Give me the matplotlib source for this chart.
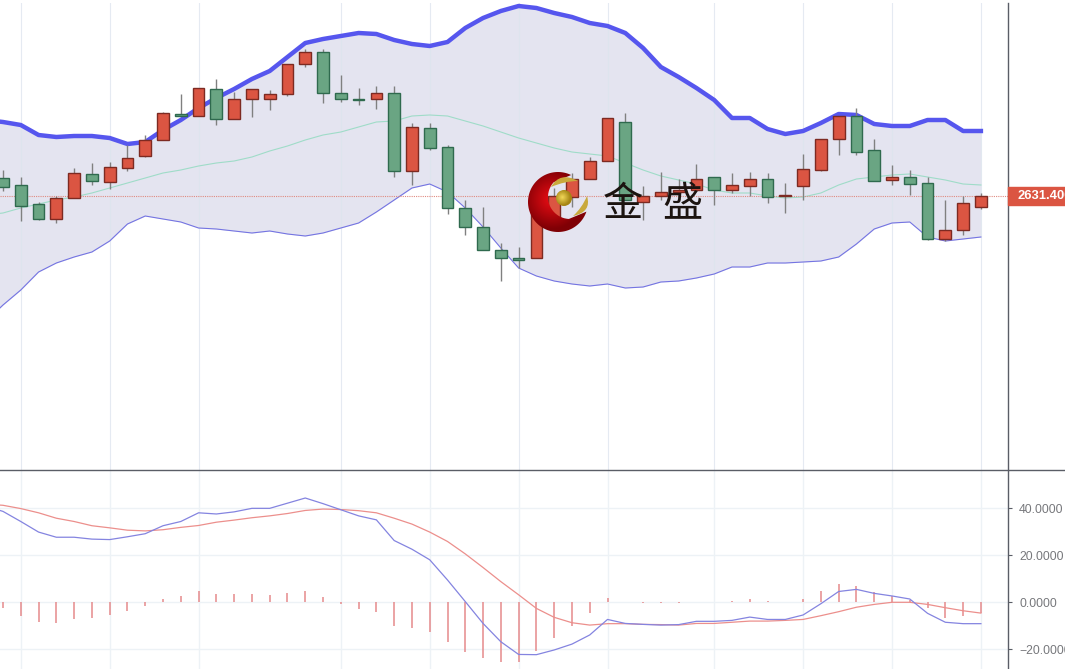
import numpy as np
import matplotlib
matplotlib.use('Agg')
import matplotlib.pyplot as plt
from matplotlib.patches import Circle, PathPatch, Rectangle
from matplotlib.path import Path
from matplotlib.transforms import blended_transform_factory

W, H = 1065, 669

# candles
opens = [2649, 2642, 2623, 2608, 2629, 2653, 2645, 2659, 2671, 2687, 2713, 2711, 2738, 2708,
         2728, 2728, 2733, 2763, 2775, 2734, 2728, 2728, 2734, 2656, 2699, 2680, 2619, 2600,
         2577, 2569, 2569, 2607, 2630, 2648, 2666, 2705, 2625, 2631, 2635, 2637, 2650, 2637,
         2641, 2648, 2631, 2641, 2657, 2688, 2711, 2677, 2647, 2650, 2644, 2588, 2597, 2620]
closes = [2640, 2621, 2608, 2629, 2654, 2646, 2660, 2669, 2687, 2714, 2711, 2739, 2708, 2728,
          2738, 2733, 2763, 2775, 2734, 2728, 2727, 2734, 2656, 2700, 2679, 2619, 2600, 2577,
          2569, 2567, 2631, 2631, 2648, 2666, 2709, 2627, 2631, 2635, 2637, 2648, 2637, 2642,
          2648, 2630, 2632, 2658, 2688, 2711, 2675, 2646, 2650, 2643, 2588, 2597, 2624, 2631]
highs = [2657, 2650, 2625, 2631, 2659, 2664, 2665, 2682, 2692, 2715, 2733, 2739, 2748, 2735,
         2738, 2737, 2763, 2778, 2778, 2752, 2739, 2741, 2741, 2704, 2704, 2682, 2627, 2620,
         2584, 2580, 2631, 2639, 2654, 2670, 2709, 2714, 2641, 2655, 2648, 2663, 2650, 2654,
         2655, 2654, 2644, 2673, 2688, 2711, 2719, 2688, 2662, 2657, 2650, 2627, 2631, 2634]
lows = [2636, 2606, 2607, 2604, 2629, 2642, 2638, 2656, 2670, 2687, 2711, 2711, 2702, 2708,
        2710, 2717, 2731, 2760, 2724, 2725, 2722, 2718, 2650, 2642, 2677, 2613, 2592, 2577,
        2546, 2559, 2569, 2607, 2620, 2648, 2666, 2627, 2607, 2627, 2632, 2637, 2622, 2634,
        2631, 2624, 2614, 2627, 2656, 2672, 2672, 2646, 2642, 2632, 2587, 2586, 2592, 2618]

# bollinger, first value belongs to the bar just off the left edge
boll_up = [2707, 2705, 2702, 2692, 2690, 2691, 2691, 2689, 2683, 2685, 2697, 2707, 2719, 2729, 2738,
           2748, 2756, 2770, 2784, 2788, 2791, 2794, 2793, 2787, 2783, 2781, 2785, 2799, 2809,
           2816, 2821, 2819, 2814, 2810, 2804, 2801, 2794, 2779, 2760, 2750, 2739, 2727, 2709,
           2709, 2698, 2693, 2696, 2704, 2713, 2712, 2703, 2701, 2701, 2707, 2707, 2696, 2696]
boll_mid = [2612, 2614, 2619, 2623, 2627, 2630, 2634, 2639, 2644, 2649, 2654, 2657, 2661, 2664, 2666,
            2670, 2676, 2681, 2687, 2692, 2695, 2700, 2705, 2706, 2711, 2712, 2711, 2706, 2701,
            2695, 2689, 2684, 2679, 2675, 2673, 2671, 2664, 2657, 2651, 2647, 2643, 2637, 2634,
            2634, 2631, 2629, 2630, 2634, 2642, 2648, 2650, 2652, 2653, 2650, 2647, 2643, 2642]
boll_low = [2505, 2522, 2537, 2555, 2564, 2570, 2575, 2586, 2603, 2611, 2608, 2605, 2599, 2598, 2596,
            2594, 2596, 2593, 2591, 2594, 2599, 2604, 2615, 2627, 2639, 2643, 2635, 2619, 2600,
            2579, 2559, 2551, 2546, 2543, 2541, 2543, 2539, 2540, 2545, 2546, 2549, 2553, 2560,
            2560, 2564, 2564, 2565, 2566, 2570, 2583, 2598, 2604, 2605, 2590, 2586, 2588, 2590]

# macd panel, same off-screen first value for the two lines
dif = [41.0, 38.7, 34.4, 29.9, 27.7, 27.7, 26.9, 26.7, 27.9, 29.2, 32.6, 34.4, 38.1, 37.6, 38.5,
       40.0, 40.0, 42.2, 44.4, 42.0, 39.4, 36.8, 35.1, 26.3, 22.6, 18.1, 9.5, 0.3, -9.0,
       -16.8, -22.2, -22.3, -20.3, -17.8, -13.9, -7.3, -9.0, -9.4, -9.7, -9.5, -8.1, -8.1, -7.7,
       -6.3, -7.3, -7.3, -5.4, -0.6, 4.6, 5.5, 3.8, 2.7, 1.4, -4.7, -8.5, -9.1, -9.1]
dea = [41.8, 41.3, 39.9, 38.1, 35.8, 34.4, 32.6, 31.7, 30.7, 30.4, 30.9, 31.9, 32.7, 34.1, 35.0,
       36.0, 36.8, 37.8, 39.1, 39.7, 39.5, 39.0, 38.1, 35.8, 33.3, 29.9, 25.9, 20.6, 14.8,
       8.8, 3.2, -2.6, -6.4, -8.7, -9.7, -9.1, -9.1, -9.4, -9.5, -9.7, -9.0, -9.0, -8.5,
       -8.0, -8.0, -7.7, -7.3, -5.7, -4.0, -2.1, -0.9, 0.0, 0.0, -0.9, -2.3, -3.6, -4.6]
hist = [-2.6, -5.7, -8.3, -8.8, -7.1, -6.5, -5.3, -3.8, -1.7, 1.3, 2.6, 4.8, 3.4, 3.4,
        3.4, 3.1, 3.8, 4.8, 2.1, -0.6, -3.0, -4.0, -10.2, -10.8, -12.5, -17.1, -21.1, -23.8,
        -25.3, -25.3, -20.6, -15.1, -10.1, -4.7, 1.7, 0.0, -0.5, -0.5, -0.5, 0.3, 0.3, 0.7,
        1.2, 0.7, 0.3, 1.5, 4.7, 7.8, 7.0, 4.3, 2.7, 1.0, -2.6, -6.5, -5.7, -4.6]

macd_ticks = [40, 20, 0, -20]
macd_labels = ['40.0000', '20.0000', '0.0000', '\u221220.0000']
grid_idx = [1, 6, 11, 19, 24, 29, 34, 40, 45, 50, 55]
last_price = 2631.4

RED = '#db5542'
RED_EDGE = '#7d2a22'
GREEN = '#6aa583'
GREEN_EDGE = '#2f6a4e'
GRID = '#edf2f6'
AXIS = '#5a5d66'
LABEL = '#77787c'

plt.rcParams['font.family'] = ['Liberation Sans', 'DejaVu Sans']

fig = plt.figure(figsize=(W / 100, H / 100), dpi=100)
ax = fig.add_axes([0, 1 - 470 / H, 1008 / W, 467 / H])
ax2 = fig.add_axes([0, 0, 1008 / W, (H - 471) / H])

x = np.arange(len(opens))
xb = np.arange(len(boll_up)) - 1
xlim = (-3 / 17.78, 1005 / 17.78)

# main panel
ax.set_xlim(*xlim)
ax.set_ylim(2357, 2824)
ax.fill_between(xb, boll_low, boll_up, color='#e4e4f0', lw=0, zorder=1)
for g in grid_idx:
    ax.axvline(g, color='#dde4ee', lw=0.8, alpha=0.75, zorder=1.5)
ax.plot(xb, boll_mid, color='#9fdcc8', lw=0.8, zorder=2)
ax.plot(xb, boll_low, color='#7474e2', lw=0.8, zorder=2)
ax.plot(xb, boll_up, color='#5656ee', lw=3.2, zorder=2, solid_joinstyle='round')
ax.axhline(last_price, color='#e08a80', lw=0.8, ls=(0, (1, 1)), zorder=2.5)

for i in x:
    up = closes[i] >= opens[i]
    face = RED if up else GREEN
    edge = RED_EDGE if up else GREEN_EDGE
    ax.vlines(i, lows[i], highs[i], color='#808080', lw=1.0, zorder=3)
    ax.bar(i, abs(closes[i] - opens[i]), bottom=min(opens[i], closes[i]), width=0.66,
           color=face, edgecolor=edge, lw=1.0, zorder=4)

ax.set_xticks([])
ax.set_yticks([])
for s in ['top', 'left', 'bottom']:
    ax.spines[s].set_visible(False)
ax.spines['right'].set_color(AXIS)
ax.spines['right'].set_linewidth(1.0)

# price tag on the axis
tr = blended_transform_factory(ax.transAxes, ax.transData)
ax.add_patch(Rectangle((1.0, last_price - 9), 57 / 1008, 18, transform=tr, color=RED,
                       clip_on=False, zorder=6))
ax.text(1 + 10 / 1008, last_price, '%.3f' % last_price, transform=tr, color='white', fontsize=9.4,
        fontweight='bold', va='center', ha='left', clip_on=False, zorder=7)

# macd panel
ax2.set_xlim(*xlim)
ax2.set_ylim(-28.4, 55.9)
for g in grid_idx:
    ax2.axvline(g, color=GRID, lw=1, zorder=0)
for t in macd_ticks:
    ax2.axhline(t, color=GRID, lw=1, zorder=0)
ax2.vlines(x, 0, hist, color='#e58a8c', lw=1.1, zorder=2)
ax2.plot(xb, dea, color='#ec8f8c', lw=0.9, zorder=3)
ax2.plot(xb, dif, color='#8484e0', lw=0.9, zorder=3)
ax2.set_xticks([])
ax2.yaxis.tick_right()
ax2.set_yticks(macd_ticks)
ax2.set_yticklabels(macd_labels, fontsize=8.8, color=LABEL)
ax2.tick_params(axis='y', length=3, width=0.8, color=AXIS, pad=5)
for s in ['top', 'left', 'bottom']:
    ax2.spines[s].set_visible(False)
ax2.spines['right'].set_color(AXIS)
ax2.spines['right'].set_linewidth(1.0)

# overlay in pixels: separator and logo
ov = fig.add_axes([0, 0, 1, 1], facecolor='none')
ov.axis('off')
ov.plot([0, W], [470.0, 470.0], color=AXIS, lw=1.0)


def radial(cx, cy, r, inner, outer, clip):
    n = 120
    yy, xx = np.mgrid[-1:1:n * 1j, -1:1:n * 1j]
    d = np.clip(np.hypot(xx + 0.2, yy + 0.1), 0, 1)[..., None]
    rgb = np.array(inner) * (1 - d) + np.array(outer) * d
    im = ov.imshow(rgb, extent=(cx - r, cx + r, cy + r, cy - r), zorder=8, aspect='auto')
    im.set_clip_path(clip)


# crescent
cx, cy, R = 558.0, 202.0, 30.0
ix, iy, r = 570.0, 197.0, 22.0
d = np.hypot(ix - cx, iy - cy)
ux, uy = (ix - cx) / d, (iy - cy) / d
ang0 = np.arctan2(uy, ux)
a_out = np.arccos((R**2 - r**2 + d**2) / (2 * d * R))
a_in = np.arccos((d**2 + r**2 - R**2) / (2 * d * r))
t_out = np.linspace(ang0 + a_out, ang0 + 2 * np.pi - a_out, 80)
t_in = np.linspace(ang0 - a_in, ang0 - 2 * np.pi + a_in, 80)
pts = np.vstack([np.c_[cx + R * np.cos(t_out), cy + R * np.sin(t_out)],
                 np.c_[ix + r * np.cos(t_in), iy + r * np.sin(t_in)]])
crescent = PathPatch(Path(pts, closed=False), fc='none', ec='none', transform=ov.transData)
ov.add_patch(crescent)
radial(cx, cy, R, (0.93, 0.05, 0.08), (0.50, 0.0, 0.02), crescent)

# gold swooshes and ball
C3 = Path.CURVE3
for verts in ([(551, 187), (560, 171), (578, 181), (565, 181), (551, 187)],
              [(573, 216), (592, 212), (587, 196), (582, 208), (573, 216)]):
    ov.add_patch(PathPatch(Path(verts, [Path.MOVETO, C3, C3, C3, C3]), fc='#c9a93c', ec='none',
                           zorder=8.5))
ball = Circle((564, 198), 8, fc='none', ec='none', transform=ov.transData)
ov.add_patch(ball)
radial(564, 198, 8, (0.95, 0.85, 0.35), (0.65, 0.52, 0.08), ball)

ov.set_xlim(0, W)
ov.set_ylim(H, 0)

ov.text(623, 205, '金', fontsize=29, color='#1c1410', ha='center', va='center',
        family=['Noto Sans CJK SC', 'DejaVu Sans'], zorder=9)
ov.text(682, 205, '盛', fontsize=29, color='#1c1410', ha='center', va='center',
        family=['Noto Sans CJK SC', 'DejaVu Sans'], zorder=9)

fig.savefig('out.png', dpi=100, facecolor='white')
